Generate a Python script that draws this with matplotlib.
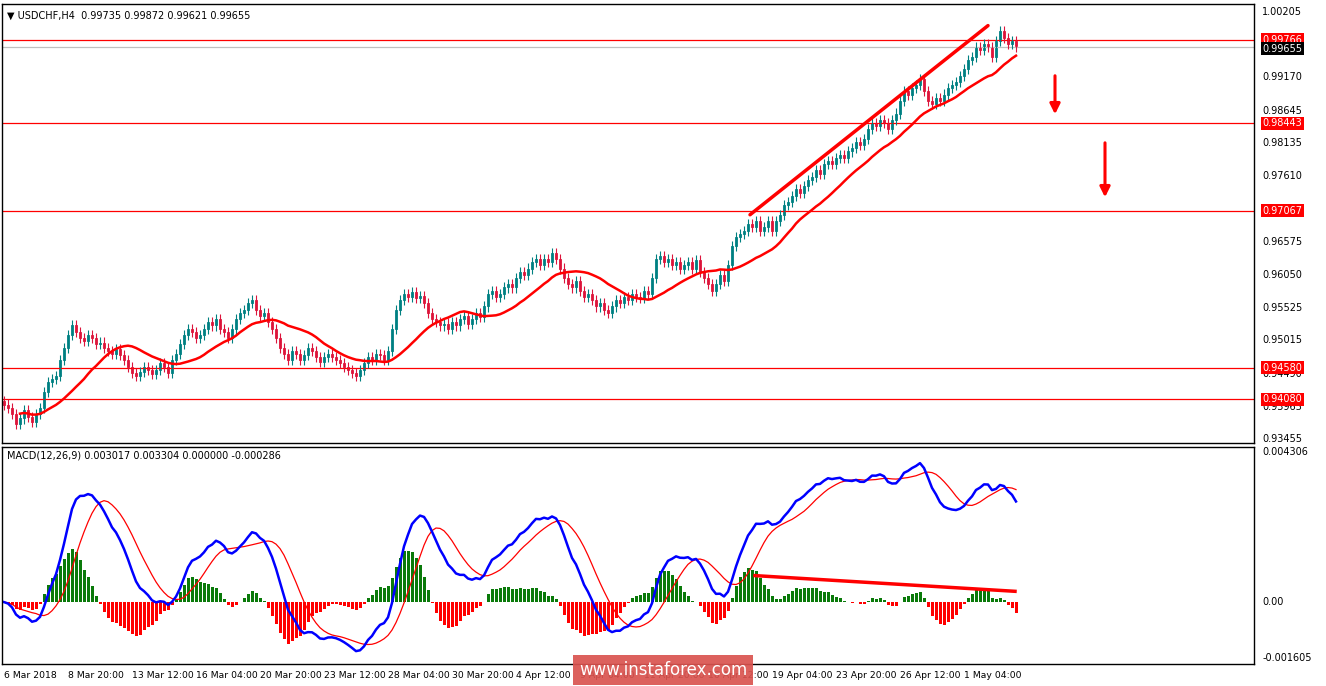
import numpy as np
import pandas as pd
import matplotlib
matplotlib.use("Agg")
import matplotlib.pyplot as plt
from matplotlib.patches import Rectangle

closes = [
0.9400,0.9395,0.9385,0.9370,0.9378,0.9392,0.9380,0.9372,0.9385,0.9395,
0.9420,0.9435,0.9440,0.9445,0.9470,0.9490,0.9510,0.9525,0.9515,0.9505,
0.9500,0.9510,0.9505,0.9495,0.9498,0.9490,0.9485,0.9480,0.9488,0.9478,
0.9470,0.9460,0.9450,0.9445,0.9452,0.9460,0.9455,0.9448,0.9455,0.9465,
0.9460,0.9450,0.9470,0.9480,0.9495,0.9510,0.9520,0.9515,0.9505,0.9510,
0.9520,0.9530,0.9525,0.9535,0.9520,0.9515,0.9505,0.9520,0.9535,0.9545,
0.9550,0.9560,0.9565,0.9550,0.9540,0.9545,0.9530,0.9520,0.9505,0.9490,
0.9480,0.9470,0.9485,0.9480,0.9470,0.9478,0.9490,0.9485,0.9475,0.9468,
0.9475,0.9480,0.9475,0.9470,0.9465,0.9460,0.9455,0.9450,0.9445,0.9455,
0.9465,0.9475,0.9470,0.9480,0.9478,0.9470,0.9485,0.9520,0.9550,0.9565,
0.9575,0.9570,0.9578,0.9568,0.9572,0.9560,0.9545,0.9535,0.9530,0.9525,
0.9528,0.9520,0.9530,0.9525,0.9535,0.9540,0.9528,0.9535,0.9545,0.9538,
0.9555,0.9575,0.9580,0.9570,0.9575,0.9585,0.9590,0.9585,0.9600,0.9610,
0.9605,0.9615,0.9625,0.9630,0.9620,0.9630,0.9625,0.9640,0.9630,0.9615,
0.9600,0.9590,0.9585,0.9595,0.9580,0.9570,0.9575,0.9565,0.9555,0.9560,
0.9550,0.9545,0.9555,0.9565,0.9560,0.9570,0.9565,0.9575,0.9570,0.9568,
0.9580,0.9575,0.9600,0.9630,0.9635,0.9625,0.9630,0.9620,0.9625,0.9615,
0.9620,0.9625,0.9615,0.9628,0.9610,0.9600,0.9590,0.9580,0.9590,0.9605,
0.9595,0.9620,0.9650,0.9665,0.9670,0.9675,0.9685,0.9680,0.9690,0.9675,
0.9680,0.9690,0.9675,0.9690,0.9700,0.9715,0.9720,0.9730,0.9740,0.9735,
0.9745,0.9755,0.9760,0.9770,0.9765,0.9780,0.9785,0.9780,0.9790,0.9795,
0.9790,0.9800,0.9805,0.9815,0.9810,0.9820,0.9835,0.9845,0.9840,0.9850,
0.9845,0.9835,0.9850,0.9860,0.9880,0.9895,0.9890,0.9900,0.9905,0.9915,
0.9895,0.9880,0.9875,0.9885,0.9880,0.9890,0.9900,0.9905,0.9910,0.9920,
0.9930,0.9945,0.9950,0.9965,0.9960,0.9970,0.9965,0.9950,0.9975,0.9990,
0.9980,0.9970,0.9975,0.9966]
first_open = 0.9405
wick = 0.0008

price_ticks = [1.00205,0.99170,0.98645,0.98135,0.97610,0.96575,0.96050,0.95525,0.95015,0.94490,0.93965,0.93455]
red_levels = [0.99766,0.98443,0.97067,0.94580,0.94080]
cur_price = 0.99655
time_labels = ["6 Mar 2018","8 Mar 20:00","13 Mar 12:00","16 Mar 04:00","20 Mar 20:00","23 Mar 12:00",
               "28 Mar 04:00","30 Mar 20:00","4 Apr 12:00","9 Apr 04:00","11 Apr 20:00","16 Apr 12:00",
               "19 Apr 04:00","23 Apr 20:00","26 Apr 12:00","1 May 04:00"]
label_idx = [0,16,32,48,64,80,96,112,128,144,160,176,192,208,224,240]
trend = ([186.5,246],[0.9700,0.9999])
arrows = [(262.75,0.99241,0.98545),(275.25,0.98181,0.97233)]
macd_trend = ([187.75,252.75],[0.00076,0.00031])
macd_ticks = [0.004306,0.0,-0.001605]

c = np.array(closes); n = len(c)
o = np.concatenate([[first_open], c[:-1]])
hi = np.maximum(o,c)+wick; lo = np.minimum(o,c)-wick
idx = np.arange(n)
s = pd.Series(c)
ma = s.rolling(18, min_periods=5).mean()
macd = s.ewm(span=12,adjust=False).mean()-s.ewm(span=26,adjust=False).mean()
sig = macd.rolling(9,min_periods=1).mean()
hist = (macd-sig)*0.9

W,H = 1326,686
fig = plt.figure(figsize=(W/100,H/100), dpi=100)
fig.patch.set_facecolor("white")
def axrect(l,t,r,b): return [l/W, 1-b/H, (r-l)/W, (b-t)/H]
ax = fig.add_axes(axrect(2,4,1254,443))
ax2 = fig.add_axes(axrect(2,447,1254,664))
xl = (-0.5, 312.5)
pmin, pmax = 1.00205-(443-12)*0.0675/427, 1.00205+(12-4)*0.0675/427
ax.set_xlim(*xl); ax.set_ylim(pmin,pmax)
fs = 7.0
for a in (ax,ax2):
    a.set_xticks([]); a.set_yticks([])
    for sp in a.spines.values(): sp.set_color("black"); sp.set_linewidth(1)

for lv in red_levels:
    ax.axhline(lv, color="red", lw=0.9)
ax.axhline(cur_price, color="#c0c0c0", lw=0.9)
for i in range(n):
    if c[i]>=o[i]:
        ax.vlines(i, lo[i], hi[i], color="#008080", lw=0.8)
        ax.add_patch(Rectangle((i-0.35,o[i]),0.7,max(c[i]-o[i],2e-5),facecolor="#1e9ac8",edgecolor="#008080",lw=0.6))
    else:
        ax.vlines(i, lo[i], hi[i], color="#dc143c", lw=0.8)
        ax.add_patch(Rectangle((i-0.35,c[i]),0.7,max(o[i]-c[i],2e-5),facecolor="#ff3b20",edgecolor="#dc143c",lw=0.6))
ax.plot(idx, ma, color="red", lw=1.8)
ax.plot(trend[0], trend[1], color="red", lw=2.5, solid_capstyle="round")
for x,y0,y1 in arrows:
    ax.annotate("", xy=(x,y1), xytext=(x,y0), arrowprops=dict(arrowstyle="-|>,head_width=0.3,head_length=0.6", color="red", lw=2.2))
ax.text(0.004,0.985,"▼ USDCHF,H4  0.99735 0.99872 0.99621 0.99655", transform=ax.transAxes, fontsize=fs, va="top")

for t in price_ticks:
    ax.annotate(f"{t:.5f}", xy=(1,t), xycoords=("axes fraction","data"), xytext=(6,0), textcoords="offset points", fontsize=fs, va="center")
for lv in red_levels:
    ax.annotate(f"{lv:.5f}", xy=(1,lv), xycoords=("axes fraction","data"), xytext=(6,0), textcoords="offset points",
                fontsize=fs, va="center", color="white", bbox=dict(boxstyle="square,pad=0.15", fc="red", ec="none"))
ax.annotate(f"{cur_price:.5f}", xy=(1,cur_price-0.0003), xycoords=("axes fraction","data"), xytext=(6,0), textcoords="offset points",
            fontsize=fs, va="center", color="white", bbox=dict(boxstyle="square,pad=0.15", fc="black", ec="none"))

mlo = -0.001605-(664-658)*0.004306/153
mhi = 0.004306+(452-447)*0.004306/153
ax2.set_xlim(*xl); ax2.set_ylim(mlo,mhi)
cols = ["#0a7a0a" if h>=0 else "#ff0000" for h in hist]
ax2.bar(idx, hist, width=0.75, color=cols)
ax2.plot(idx, sig, color="red", lw=0.9)
ax2.plot(idx, macd, color="#0000ff", lw=1.8)
ax2.plot(macd_trend[0], macd_trend[1], color="red", lw=2.5)
ax2.text(0.004,0.985,"MACD(12,26,9) 0.003017 0.003304 0.000000 -0.000286", transform=ax2.transAxes, fontsize=fs, va="top")
for t,lab in zip(macd_ticks,["0.004306","0.00","-0.001605"]):
    ax2.annotate(lab, xy=(1,t), xycoords=("axes fraction","data"), xytext=(6,0), textcoords="offset points", fontsize=fs, va="center")
for li,lab in zip(label_idx,time_labels):
    ax2.annotate(lab, xy=(li,0), xycoords=("data","axes fraction"), xytext=(0,-5), textcoords="offset points", fontsize=6.7, va="top", ha="left")

fig.text(663/W, 1-670/H, "www.instaforex.com", ha="center", va="center", fontsize=12, color="white",
         bbox=dict(boxstyle="square,pad=0.35", fc="#d9534f", ec="none", alpha=0.92))
fig.savefig("out.png", dpi=100)
